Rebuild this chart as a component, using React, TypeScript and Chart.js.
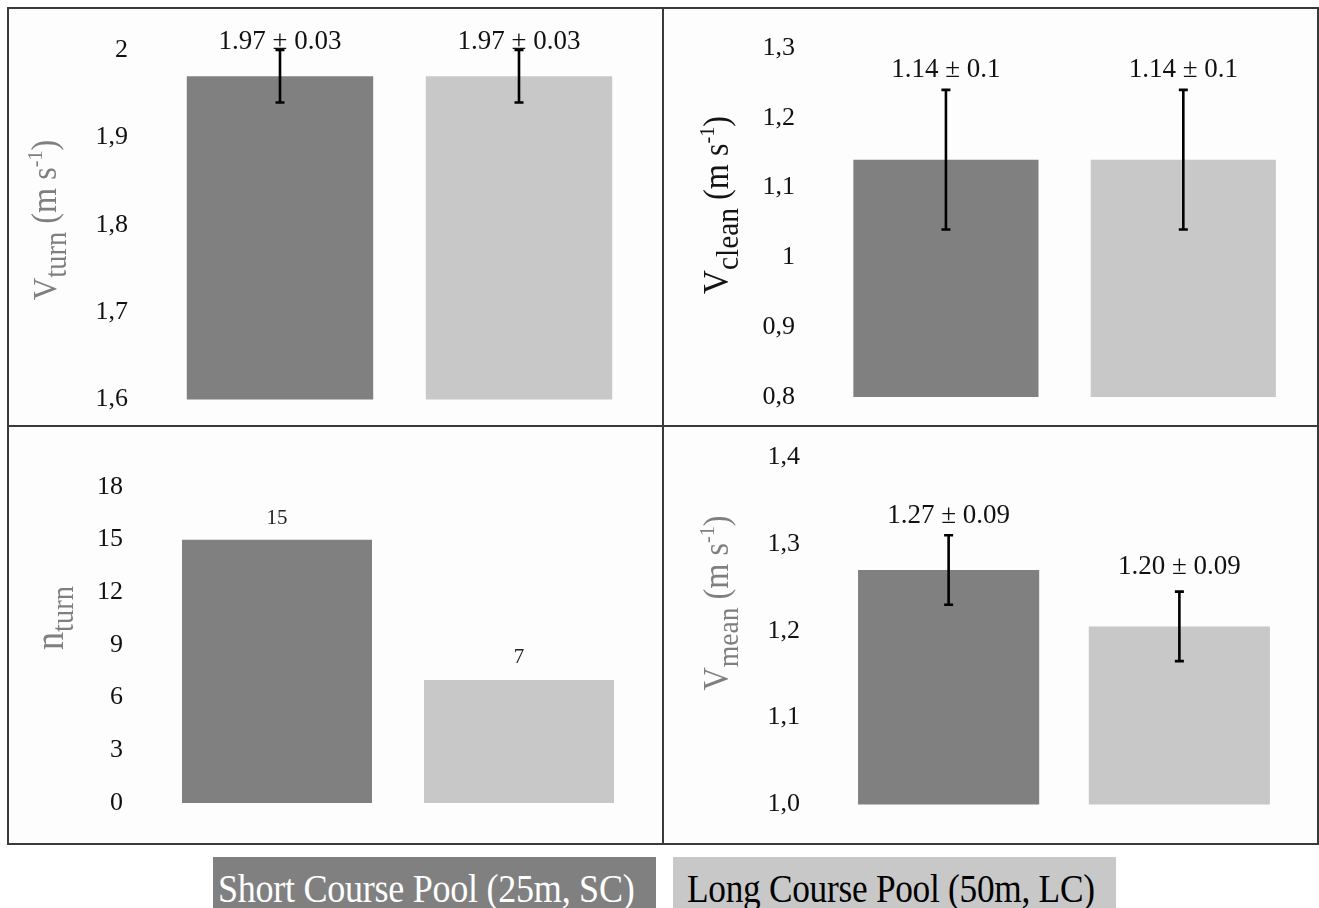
import React, { useEffect, useRef } from "react";
import { Chart, registerables } from "chart.js";
Chart.register(...registerables);

const FONT = "'Liberation Serif', 'Times New Roman', serif";
const DARK = "#808080";
const LIGHT = "#c8c8c8";
const GRAY_TITLE = "#7f7f7f";
const BLACK_TITLE = "#141414";

const categories = ["Short Course Pool (25m, SC)", "Long Course Pool (50m, LC)"];

const vTurnMean = [1.97, 1.97];
const vTurnSd = [0.03, 0.03];
const vTurnLabels = ["1.97 \u00B1 0.03", "1.97 \u00B1 0.03"];
const vTurnTicks = [1.6, 1.7, 1.8, 1.9, 2.0];
const vTurnTickLabels = ["1,6", "1,7", "1,8", "1,9", "2"];

const vCleanMean = [1.14, 1.14];
const vCleanSd = [0.1, 0.1];
const vCleanLabels = ["1.14 \u00B1 0.1", "1.14 \u00B1 0.1"];
const vCleanTicks = [0.8, 0.9, 1.0, 1.1, 1.2, 1.3];
const vCleanTickLabels = ["0,8", "0,9", "1", "1,1", "1,2", "1,3"];

const nTurnValues = [15, 7];
const nTurnSd = [0, 0];
const nTurnLabels = ["15", "7"];
const nTurnTicks = [0, 3, 6, 9, 12, 15, 18];
const nTurnTickLabels = ["0", "3", "6", "9", "12", "15", "18"];

const vMeanMean = [1.27, 1.205];
const vMeanSd = [0.04, 0.04];
const vMeanLabels = ["1.27 \u00B1 0.09", "1.20 \u00B1 0.09"];
const vMeanTicks = [1.0, 1.1, 1.2, 1.3, 1.4];
const vMeanTickLabels = ["1,0", "1,1", "1,2", "1,3", "1,4"];

type Part = { t: string; size: number; dy: number };
type PanelCfg = {
  canvas: { x: number; y: number; w: number; h: number };
  area: { left: number; right: number; top: number; bottom: number };
  tickRight: number;
  min: number;
  max: number;
  ticks: number[];
  tickLabels: string[];
  values: number[];
  sd: number[];
  labels: string[];
  labelFont: number;
  labelGap: number[];
  labelColor: string;
  barPct: number;
  title: { x: number; y: number; color: string; squeeze: number; parts: Part[] };
};

const panels: PanelCfg[] = [
  {
    canvas: { x: 9, y: 9, w: 653, h: 416 },
    area: { left: 160.5, right: 638.5, top: 50, bottom: 399.5 },
    tickRight: 128,
    min: 1.6,
    max: 2.0,
    ticks: vTurnTicks,
    tickLabels: vTurnTickLabels,
    values: vTurnMean,
    sd: vTurnSd,
    labels: vTurnLabels,
    labelFont: 27,
    labelGap: [8, 8],
    labelColor: "#111",
    barPct: 0.78,
    title: {
      x: 56,
      y: 220,
      color: GRAY_TITLE,
      squeeze: 0.92,
      parts: [
        { t: "V", size: 34, dy: 0 },
        { t: "turn", size: 31, dy: 10 },
        { t: " (m s", size: 35, dy: 0 },
        { t: "-1", size: 22, dy: -14 },
        { t: ")", size: 35, dy: 0 },
      ],
    },
  },
  {
    canvas: { x: 664, y: 9, w: 653, h: 416 },
    area: { left: 827.25, right: 1302, top: 48, bottom: 397 },
    tickRight: 795,
    min: 0.8,
    max: 1.3,
    ticks: vCleanTicks,
    tickLabels: vCleanTickLabels,
    values: vCleanMean,
    sd: vCleanSd,
    labels: vCleanLabels,
    labelFont: 27,
    labelGap: [20, 20],
    labelColor: "#111",
    barPct: 0.78,
    title: {
      x: 728,
      y: 205,
      color: BLACK_TITLE,
      squeeze: 0.92,
      parts: [
        { t: "V", size: 36, dy: 0 },
        { t: "clean", size: 32, dy: 10 },
        { t: " (m s", size: 35, dy: 0 },
        { t: "-1", size: 22, dy: -14 },
        { t: ")", size: 35, dy: 0 },
      ],
    },
  },
  {
    canvas: { x: 9, y: 427, w: 653, h: 416 },
    area: { left: 156, right: 640, top: 487, bottom: 803 },
    tickRight: 123,
    min: 0,
    max: 18,
    ticks: nTurnTicks,
    tickLabels: nTurnTickLabels,
    values: nTurnValues,
    sd: nTurnSd,
    labels: nTurnLabels,
    labelFont: 21,
    labelGap: [21, 23],
    labelColor: "#222",
    barPct: 0.785,
    title: {
      x: 63,
      y: 618,
      color: GRAY_TITLE,
      squeeze: 0.92,
      parts: [
        { t: "n", size: 39, dy: 0 },
        { t: "turn", size: 31, dy: 10 },
      ],
    },
  },
  {
    canvas: { x: 664, y: 427, w: 653, h: 416 },
    area: { left: 833.25, right: 1294.75, top: 457, bottom: 804.5 },
    tickRight: 800,
    min: 1.0,
    max: 1.4,
    ticks: vMeanTicks,
    tickLabels: vMeanTickLabels,
    values: vMeanMean,
    sd: vMeanSd,
    labels: vMeanLabels,
    labelFont: 27,
    labelGap: [19, 25],
    labelColor: "#111",
    barPct: 0.785,
    title: {
      x: 728,
      y: 603,
      color: GRAY_TITLE,
      squeeze: 0.92,
      parts: [
        { t: "V", size: 35, dy: 0 },
        { t: "mean", size: 30, dy: 10 },
        { t: " (m s", size: 35, dy: 0 },
        { t: "-1", size: 22, dy: -14 },
        { t: ")", size: 35, dy: 0 },
      ],
    },
  },
];

function Panel({ cfg }: { cfg: PanelCfg }) {
  const ref = useRef<HTMLCanvasElement | null>(null);
  useEffect(() => {
    if (!ref.current) return;
    const c = cfg.canvas;
    const a = cfg.area;
    const overlay = {
      id: "overlay",
      afterDatasetsDraw(chart: any) {
        const ctx = chart.ctx;
        const y = chart.scales.y;
        const meta = chart.getDatasetMeta(0);
        ctx.save();
        meta.data.forEach((bar: any, i: number) => {
          const v = cfg.values[i];
          const s = cfg.sd[i];
          let anchor = y.getPixelForValue(v);
          if (s > 0) {
            const yt = y.getPixelForValue(v + s);
            const yb = y.getPixelForValue(v - s);
            ctx.strokeStyle = "#000";
            ctx.lineWidth = 2.6;
            ctx.beginPath();
            ctx.moveTo(bar.x, yt);
            ctx.lineTo(bar.x, yb);
            ctx.moveTo(bar.x - 4.5, yt);
            ctx.lineTo(bar.x + 4.5, yt);
            ctx.moveTo(bar.x - 4.5, yb);
            ctx.lineTo(bar.x + 4.5, yb);
            ctx.stroke();
            anchor = yt;
          }
          ctx.fillStyle = cfg.labelColor;
          ctx.font = `${cfg.labelFont}px ${FONT}`;
          ctx.textAlign = "center";
          ctx.textBaseline = "middle";
          ctx.fillText(cfg.labels[i], bar.x, anchor - cfg.labelGap[i]);
        });
        ctx.restore();
      },
      afterDraw(chart: any) {
        const ctx = chart.ctx;
        const t = cfg.title;
        ctx.save();
        ctx.translate(t.x - c.x, t.y - c.y);
        ctx.rotate(-Math.PI / 2);
        ctx.scale(t.squeeze, 1);
        ctx.fillStyle = t.color;
        ctx.textAlign = "left";
        ctx.textBaseline = "alphabetic";
        let total = 0;
        const widths = t.parts.map((p) => {
          ctx.font = `${p.size}px ${FONT}`;
          const w = ctx.measureText(p.t).width;
          total += w;
          return w;
        });
        let x = -total / 2;
        t.parts.forEach((p, i) => {
          ctx.font = `${p.size}px ${FONT}`;
          ctx.fillText(p.t, x, p.dy);
          x += widths[i];
        });
        ctx.restore();
      },
    };
    const chart = new Chart(ref.current, {
      type: "bar",
      data: {
        labels: categories,
        datasets: [
          {
            data: cfg.values,
            backgroundColor: [DARK, LIGHT],
            borderWidth: 0,
            barPercentage: cfg.barPct,
            categoryPercentage: 1,
          },
        ],
      },
      options: {
        responsive: false,
        animation: false,
        events: [],
        layout: {
          autoPadding: false,
          padding: {
            left: 0,
            right: c.x + c.w - a.right,
            top: a.top - c.y,
            bottom: c.y + c.h - a.bottom,
          },
        },
        plugins: {
          legend: { display: false },
          tooltip: { enabled: false },
          title: { display: false },
        },
        scales: {
          x: { display: false },
          y: {
            min: cfg.min,
            max: cfg.max,
            grid: { display: false, drawTicks: false },
            border: { display: false },
            afterBuildTicks: (s: any) => {
              s.ticks = cfg.ticks.map((v) => ({ value: v }));
            },
            afterFit: (s: any) => {
              s.width = a.left - c.x;
              s.paddingTop = 0;
              s.paddingBottom = 0;
              s.paddingLeft = 0;
              s.paddingRight = 0;
            },
            ticks: {
              padding: a.left - cfg.tickRight,
              color: "#111",
              font: { family: FONT, size: 26 },
              callback: (_v: any, i: number) => cfg.tickLabels[i],
            },
          },
        },
      },
      plugins: [overlay],
    });
    return () => chart.destroy();
  }, [cfg]);
  return (
    <canvas
      ref={ref}
      width={cfg.canvas.w}
      height={cfg.canvas.h}
      style={{
        position: "absolute",
        left: cfg.canvas.x,
        top: cfg.canvas.y,
        width: cfg.canvas.w,
        height: cfg.canvas.h,
      }}
    />
  );
}

const legendColors = [DARK, LIGHT];
const legendTextColors = ["#ffffff", "#000000"];
const legendBoxes = [
  { left: 213, width: 443, textLeft: 5, squeeze: 0.925 },
  { left: 673, width: 443, textLeft: 14, squeeze: 0.905 },
];

export default function App() {
  const lineColor = "#3a3a3a";
  return (
    <div
      style={{
        position: "absolute",
        left: 0,
        top: 0,
        width: 1319,
        height: 908,
        overflow: "hidden",
        background: "#ffffff",
      }}
    >
      <div
        style={{
          position: "absolute",
          left: 7,
          top: 7,
          width: 1312,
          height: 838,
          background: "#fdfdfd",
        }}
      />
      {panels.map((p, i) => (
        <Panel key={i} cfg={p} />
      ))}
      <div
        style={{
          position: "absolute",
          left: 7,
          top: 7,
          width: 1312,
          height: 838,
          border: `2px solid ${lineColor}`,
          boxSizing: "border-box",
          pointerEvents: "none",
        }}
      />
      <div
        style={{
          position: "absolute",
          left: 662,
          top: 7,
          width: 2,
          height: 838,
          background: lineColor,
        }}
      />
      <div
        style={{
          position: "absolute",
          left: 7,
          top: 425,
          width: 1312,
          height: 2,
          background: lineColor,
        }}
      />
      {categories.map((c, i) => (
        <div
          key={c}
          style={{
            position: "absolute",
            left: legendBoxes[i].left,
            top: 857,
            width: legendBoxes[i].width,
            height: 51,
            background: legendColors[i],
            overflow: "hidden",
          }}
        >
          <span
            style={{
              position: "absolute",
              left: legendBoxes[i].textLeft,
              top: 12,
              color: legendTextColors[i],
              fontFamily: FONT,
              fontSize: 39,
              lineHeight: "39px",
              whiteSpace: "nowrap",
              display: "inline-block",
              transform: `scaleX(${legendBoxes[i].squeeze})`,
              transformOrigin: "left center",
              letterSpacing: -0.3,
            }}
          >
            {c}
          </span>
        </div>
      ))}
    </div>
  );
}
